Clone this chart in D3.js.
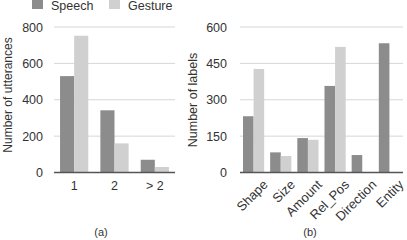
<!DOCTYPE html>
<html>
<head>
<meta charset="utf-8">
<script src="https://cdn.jsdelivr.net/npm/d3@7"></script>
<style>
  body { margin: 0; background: #fff; }
  svg { display: block; font-family: "Liberation Sans", Arial, sans-serif; }
</style>
</head>
<body>
<svg width="407" height="240"></svg>
<script>
const w = 407;
const h = 240;

// data
const series = ['Speech', 'Gesture'];
const colors = ['#8c8c8c', '#d0d0d0'];

const countCats = ['1', '2', '> 2'];
const speechCounts = [530, 342, 70];
const gestureCounts = [752, 160, 30];
const countTicks = [0, 200, 400, 600, 800];

const labelCats = ['Shape', 'Size', 'Amount', 'Rel_Pos', 'Direction', 'Entity'];
const speechLabels = [232, 83, 142, 357, 72, 533];
const gestureLabels = [427, 68, 135, 518, 0, 0];
const labelTicks = [0, 150, 300, 450, 600];

let svg = d3.select('svg');

const drawPanel = (opt) => {
	let xScale = d3.scaleBand().domain(opt.cats).range(opt.xr).paddingInner(opt.pad).paddingOuter(opt.pad / 2);
	let xInner = d3.scaleBand().domain(series).range([0, xScale.bandwidth()]);
	let yScale = d3.scaleLinear().domain([0, opt.max]).range([172.5, 27]);

	let g = svg.append('g');

	// gridlines
	g.selectAll('line.grid')
		.data(opt.ticks.filter((t) => t > 0))
		.enter()
		.append('line')
		.attr('x1', opt.xr[0])
		.attr('x2', opt.xr[1])
		.attr('y1', (d) => yScale(d))
		.attr('y2', (d) => yScale(d))
		.attr('stroke', '#d6d6d6')
		.attr('stroke-width', 1);

	// bars
	let rows = opt.cats.map((c, i) => ({ cat: c, vals: [opt.speech[i], opt.gesture[i]] }));
	g.selectAll('g.grp')
		.data(rows)
		.enter()
		.append('g')
		.attr('transform', (d) => `translate(${xScale(d.cat)},0)`)
		.selectAll('rect')
		.data((d) => d.vals.map((v, j) => ({ s: series[j], v: v, j: j })))
		.enter()
		.append('rect')
		.attr('x', (d) => xInner(d.s))
		.attr('width', xInner.bandwidth())
		.attr('y', (d) => yScale(d.v))
		.attr('height', (d) => yScale(0) - yScale(d.v))
		.attr('fill', (d) => colors[d.j]);

	// y axis
	let yAxis = d3.axisLeft(yScale).tickValues(opt.ticks).tickSize(0).tickPadding(0);
	let ya = g.append('g').attr('transform', `translate(${opt.labelX},0)`).call(yAxis);
	ya.select('.domain').remove();
	ya.selectAll('text').attr('font-size', 12.5).attr('fill', '#333').attr('font-family', null);

	// baseline
	g.append('line')
		.attr('x1', opt.xr[0])
		.attr('x2', opt.xr[1])
		.attr('y1', yScale(0))
		.attr('y2', yScale(0))
		.attr('stroke', '#555')
		.attr('stroke-width', 1.5);

	// x axis labels
	let xAxis = d3.axisBottom(xScale).tickSize(0).tickPadding(0);
	let xa = g.append('g').attr('transform', `translate(0,${yScale(0)})`).call(xAxis);
	xa.select('.domain').remove();
	xa.selectAll('text').attr('font-size', 12.5).attr('fill', '#333').attr('font-family', null);
	if (opt.rotate) {
		xa.selectAll('text')
			.attr('font-size', 13)
			.attr('text-anchor', 'end')
			.attr('dy', null)
			.attr('y', 0)
			.attr('transform', 'translate(15,13) rotate(-45)');
	} else {
		xa.selectAll('text').attr('y', 9);
	}

	// y title
	g.append('text')
		.attr('transform', `translate(${opt.titleX},${opt.titleY}) rotate(-90)`)
		.attr('text-anchor', 'middle')
		.attr('font-size', opt.titleSize)
		.attr('fill', '#333')
		.text(opt.title);

	// caption
	g.append('text')
		.attr('x', opt.capX)
		.attr('y', 236)
		.attr('text-anchor', 'middle')
		.attr('font-size', 11)
		.attr('fill', '#333')
		.text(opt.caption);
};

drawPanel({
	cats: countCats, speech: speechCounts, gesture: gestureCounts, ticks: countTicks, max: 800,
	xr: [54, 175], pad: 0.3, labelX: 43, title: 'Number of utterances', titleSize: 12, titleX: 12, titleY: 95,
	caption: '(a)', capX: 101, rotate: false
});
drawPanel({
	cats: labelCats, speech: speechLabels, gesture: gestureLabels, ticks: labelTicks, max: 600,
	xr: [240, 403], pad: 0.22, labelX: 227, title: 'Number of labels', titleSize: 12.5, titleX: 197, titleY: 100,
	caption: '(b)', capX: 310, rotate: true
});

// legend
let legend = svg.append('g');
let legX = [32, 109];
series.forEach((s, i) => {
	legend.append('rect').attr('x', legX[i]).attr('y', -2).attr('width', 11).attr('height', 11).attr('fill', colors[i]);
	legend.append('text').attr('x', legX[i] + 19).attr('y', 9.5).attr('font-size', 12.5).attr('fill', '#333').text(s);
});
</script>
</body>
</html>
